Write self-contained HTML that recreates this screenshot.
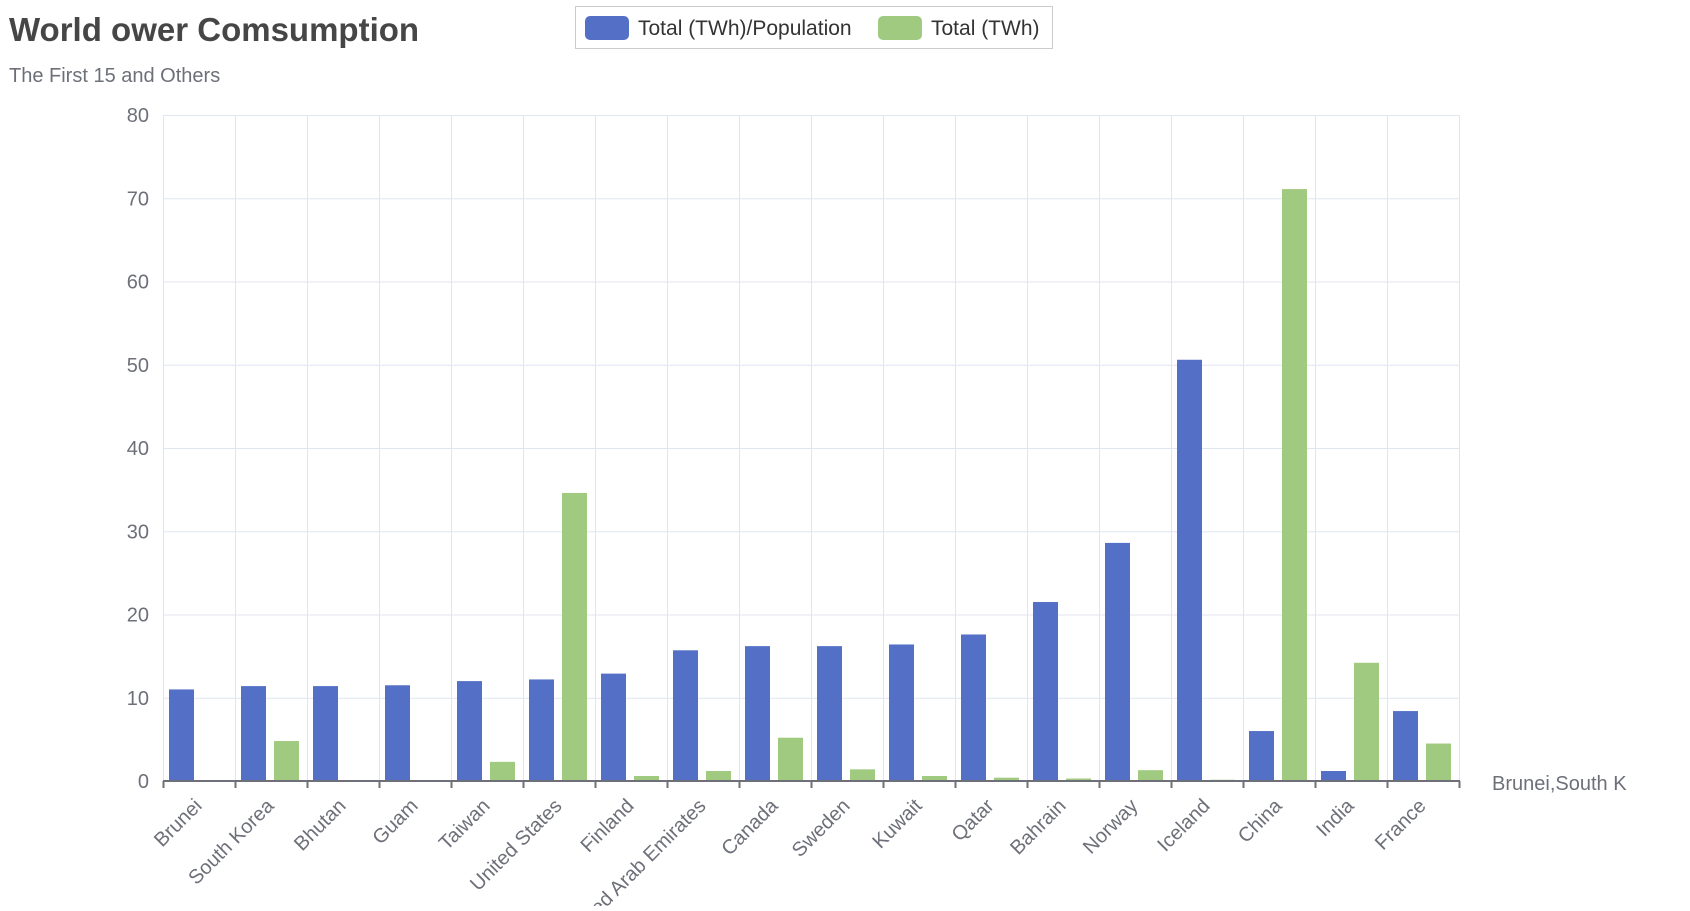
<!DOCTYPE html>
<html><head><meta charset="utf-8"><style>
body{margin:0;background:#fff;font-family:"Liberation Sans",sans-serif;}
svg text{font-family:"Liberation Sans",sans-serif;}
</style></head><body>
<svg id="c" width="1690" height="906" xmlns="http://www.w3.org/2000/svg">
<text x="9" y="41" font-size="33" font-weight="bold" fill="#464646">World ower Comsumption</text>
<text x="9" y="82" font-size="20" fill="#6e7079">The First 15 and Others</text>
<g>
<rect x="575.5" y="6.5" width="477" height="42" fill="#fff" stroke="#ccc"/>
<g><rect x="585" y="16" width="44" height="24" rx="5" fill="#5470c6"/><text x="638" y="35" font-size="21" fill="#333">Total (TWh)/Population</text></g>
<g><rect x="878" y="16" width="44" height="24" rx="5" fill="#9fca7f"/><text x="931" y="35" font-size="21" fill="#333">Total (TWh)</text></g>
</g>
<g id="grid"></g><g id="bars"></g><g id="axes"></g>
<defs><clipPath id="cl"><rect x="1480" y="750" width="147" height="50"/></clipPath></defs>
<text x="1492" y="790" font-size="20" fill="#6e7079" clip-path="url(#cl)">Brunei,South Korea</text>
</svg>
<script>
const categories=["Brunei","South Korea","Bhutan","Guam","Taiwan","United States","Finland","United Arab Emirates","Canada","Sweden","Kuwait","Qatar","Bahrain","Norway","Iceland","China","India","France"];
const perPopulation=[11.0,11.4,11.4,11.5,12.0,12.2,12.9,15.7,16.2,16.2,16.4,17.6,21.5,28.6,50.6,6.0,1.2,8.4];
const totalTWh=[0.05,4.8,0.1,0,2.3,34.6,0.6,1.2,5.2,1.4,0.6,0.4,0.3,1.3,0.15,71.1,14.2,4.5];
const yTicks=[0,10,20,30,40,50,60,70,80];
const NS="http://www.w3.org/2000/svg";
const L=163,R=1459,T=115,B=781,yMax=80;
const cw=(R-L)/categories.length;
const y=v=>B-(v/yMax)*(B-T);
const x=i=>L+i*cw;
function mk(p,tag,a){const e=document.createElementNS(NS,tag);for(const k in a)e.setAttribute(k,a[k]);p.appendChild(e);return e;}
const g=document.getElementById('grid'),b=document.getElementById('bars'),ax=document.getElementById('axes');
yTicks.forEach(t=>{
 const ln=mk(g,'line',{x1:L,x2:R,y1:y(t)+.5,y2:y(t)+.5,stroke:'#e0e6f1'});
 
 
 const tx=mk(ax,'text',{x:L-14,y:y(t)+7,'text-anchor':'end','font-size':20,fill:'#6e7079'});
 tx.textContent=t;
 
 
});
for(let i=0;i<=categories.length;i++){
 const ln=mk(g,'line',{x1:x(i)+.5,x2:x(i)+.5,y1:T,y2:B,stroke:'#e0e6f1'});
 
 
 const tk=mk(ax,'line',{x1:x(i)+.5,x2:x(i)+.5,y1:B,y2:B+7,stroke:'#6e7079','stroke-width':2});
 
 
}
const al=mk(ax,'line',{x1:L,x2:R+1,y1:B,y2:B,stroke:'#6e7079','stroke-width':2});


categories.forEach((c,i)=>{
 const bw=25;
 const r1=mk(b,'rect',{x:x(i)+6,y:y(perPopulation[i]),width:bw,height:B-y(perPopulation[i]),fill:'#5470c6'});
 
 
 const r2=mk(b,'rect',{x:x(i)+39,y:y(totalTWh[i]),width:bw,height:B-y(totalTWh[i]),fill:'#9fca7f'});
 
 
 const cx=x(i)+cw/2+4,cy=B+26;
 const tx=mk(ax,'text',{x:cx,y:cy,'text-anchor':'end','font-size':20,fill:'#6e7079',transform:`rotate(-45 ${cx} ${cy})`});
 tx.textContent=c;
 
 
});
</script>
</body></html>
